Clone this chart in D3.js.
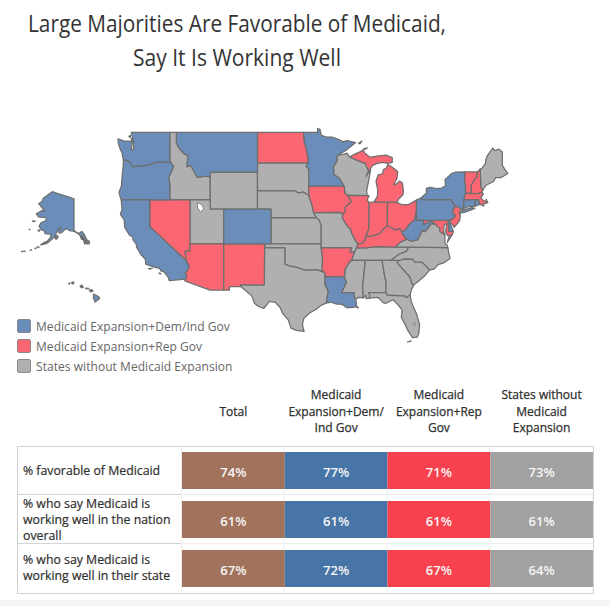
<!DOCTYPE html>
<html><head><meta charset="utf-8">
<script src="https://cdn.jsdelivr.net/npm/d3@7/dist/d3.min.js"></script>
<style>html,body{margin:0;padding:0;background:#fff}svg{display:block}text{font-family:"Open Sans","Noto Sans",sans-serif}</style>
</head><body><svg id="c" width="610" height="606"></svg>
<script>
const titleLines = ["Large Majorities Are Favorable of Medicaid,", "Say It Is Working Well"];
const titleWidths = [418, 208];
const legendLabels = ["Medicaid Expansion+Dem/Ind Gov", "Medicaid Expansion+Rep Gov", "States without Medicaid Expansion"];
const mapColors = ["#6a8eb9", "#fa6672", "#b0b0b0"];
const demStates = ["WA","OR","CA","MT","CO","MN","NY","PA","WV","LA","CT","DE","RI","AK","HI"];
const repStates = ["NV","AZ","NM","ND","IA","AR","IL","IN","OH","MI","KY","NH","VT","MA","NJ","MD"];
const noneStates = ["ID","WY","UT","SD","NE","KS","OK","TX","MO","WI","TN","MS","AL","GA","FL","SC","NC","VA","ME"];
const columns = ["Total", "Medicaid Expansion+Dem/ Ind Gov", "Medicaid Expansion+Rep Gov", "States without Medicaid Expansion"];
const columnHeaderLines = [["Total"], ["Medicaid", "Expansion+Dem/", "Ind Gov"], ["Medicaid", "Expansion+Rep", "Gov"], ["States without", "Medicaid", "Expansion"]];
const rowsLabels = ["favorable", "nation", "state"];
const rowLabelLines = [["% favorable of Medicaid"], ["% who say Medicaid is", "working well in the nation", "overall"], ["% who say Medicaid is", "working well in their state"]];
const favorable = [74, 77, 71, 73];
const wellNation = [61, 61, 61, 61];
const wellState = [67, 72, 67, 64];
const tableColors = ["#a1725c", "#4875a8", "#f8414f", "#a1a1a1"];

const shapes = {
WA:["-124.7,48.38 -123.9,48.17 -123.1,48.15 -122.75,48.15 -122.6,47.9 -122.75,47.3 -122.45,47.25 -122.35,47.9 -122.5,48.3 -122.75,49 -117.03,49 -117.04,46.42 -116.92,46 -118.98,46 -119.3,45.93 -120.5,45.7 -121.2,45.65 -122.2,45.57 -122.7,45.65 -122.8,45.9 -123.2,46.15 -123.9,46.25 -124.05,46.7 -124.1,47 -124.35,47.3 -124.65,47.9","-122.75,48.4 -122.55,48.35 -122.4,47.95 -122.55,48.1","-123.1,48.62 -122.85,48.7 -122.9,48.5"],
OR:["-124.55,42.84 -124.2,43.5 -124.1,44.5 -123.95,45.5 -123.9,46.25 -123.2,46.15 -122.8,45.9 -122.7,45.65 -122.2,45.57 -121.2,45.65 -120.5,45.7 -119.3,45.93 -118.98,46 -116.92,46 -116.47,45.6 -116.85,44.95 -117.22,44.4 -117.03,43.83 -117.03,42 -120,42 -124.21,42 -124.4,42.4"],
CA:["-124.21,42 -120,42 -120,39 -114.63,35 -114.15,34.27 -114.72,33.4 -114.53,33 -114.72,32.72 -117.12,32.53 -117.3,33 -117.9,33.6 -118.4,33.75 -118.5,34.03 -119.2,34.15 -120.6,34.55 -120.65,35.15 -121.3,35.7 -121.95,36.6 -122,36.95 -122.5,37.5 -122.5,37.8 -123,38 -123.7,38.9 -123.8,39.8 -124.35,40.4 -124.1,41 -124.2,41.7","-120.2,34 -119.6,34.05 -119.9,33.95","-118.6,33.48 -118.35,33.4 -118.5,33.35"],
NV:["-120,42 -117.03,42 -114.04,42 -114.04,37 -114.05,36.2 -114.75,36.1 -114.63,35 -120,39"],
ID:["-117.03,49 -116.05,49 -116.05,48 -115.7,47.5 -114.95,46.9 -114.35,46.65 -114.5,45.55 -113.95,45.7 -113.45,45.05 -113,44.45 -112,44.55 -111.5,44.55 -111.05,44.48 -111.05,42 -114.04,42 -117.03,42 -117.03,43.83 -117.22,44.4 -116.85,44.95 -116.47,45.6 -116.92,46 -117.04,46.42"],
MT:["-116.05,49 -104.05,49 -104.05,45.94 -104.05,45 -111.05,45 -111.05,44.48 -111.5,44.55 -112,44.55 -113,44.45 -113.45,45.05 -113.95,45.7 -114.5,45.55 -114.35,46.65 -114.95,46.9 -115.7,47.5 -116.05,48"],
WY:["-111.05,45 -104.05,45 -104.05,43 -104.05,41 -109.05,41 -111.05,41"],
UT:["-114.04,42 -111.05,42 -111.05,41 -109.05,41 -109.05,37 -114.04,37"],
CO:["-109.05,41 -104.05,41 -102.05,41 -102.05,40 -102.05,37 -103,37 -109.05,37"],
AZ:["-114.05,37 -109.05,37 -109.05,31.33 -111.07,31.33 -114.81,32.5 -114.72,32.72 -114.53,33 -114.72,33.4 -114.15,34.27 -114.63,35 -114.75,36.1 -114.05,36.2"],
NM:["-109.05,37 -103,37 -103,36.5 -103.04,32 -106.62,32 -106.53,31.78 -108.2,31.78 -108.2,31.33 -109.05,31.33"],
TX:["-103,36.5 -100,36.5 -100,34.56 -99.2,34.3 -98.1,34.13 -97.2,33.85 -96.5,33.8 -95.3,33.88 -94.48,33.64 -94.04,33.55 -94.04,33.02 -94.04,31.99 -93.55,31.2 -93.75,30.4 -93.84,29.7 -94.7,29.35 -95.3,28.9 -96.4,28.35 -97.2,27.65 -97.4,26.9 -97.15,25.96 -97.65,26.03 -98.3,26.1 -99.1,26.4 -99.5,27.5 -100.3,28.3 -100.7,29.1 -101.4,29.77 -102.3,29.88 -102.8,29.3 -103.15,28.98 -104,29.3 -104.5,29.65 -104.9,30.6 -106,31.4 -106.53,31.78 -106.62,32 -103.04,32"],
OK:["-103,37 -102.05,37 -94.62,37 -94.62,36.5 -94.43,35.4 -94.48,33.64 -95.3,33.88 -96.5,33.8 -97.2,33.85 -98.1,34.13 -99.2,34.3 -100,34.56 -100,36.5 -103,36.5"],
KS:["-102.05,40 -95.3,40 -94.9,39.75 -94.61,39.1 -94.62,37 -102.05,37"],
NE:["-104.05,43 -98.5,43 -98,42.77 -97.2,42.85 -96.45,42.49 -96.1,41.7 -95.9,41.2 -95.75,40.58 -95.3,40 -102.05,40 -102.05,41 -104.05,41"],
SD:["-104.05,45.94 -96.56,45.94 -96.85,45.6 -96.45,45.3 -96.45,43.5 -96.45,42.49 -97.2,42.85 -98,42.77 -98.5,43 -104.05,43"],
ND:["-104.05,49 -97.23,49 -97.1,48 -96.85,47.5 -96.56,46.5 -96.56,45.94 -104.05,45.94"],
MN:["-97.23,49 -95.15,49 -95.15,49.38 -94.8,49.3 -94.6,48.7 -93.8,48.55 -93,48.55 -92,48.3 -91.4,48.07 -90.8,48.2 -89.5,48 -90.8,47.3 -92.1,46.75 -92.29,46.65 -92.29,46.1 -92.8,45.6 -92.75,44.75 -91.95,44.35 -91.22,43.5 -96.45,43.5 -96.45,45.3 -96.85,45.6 -96.56,45.94 -96.56,46.5 -96.85,47.5 -97.1,48"],
IA:["-96.45,43.5 -91.22,43.5 -91.1,42.7 -90.65,42.5 -90.15,41.8 -91.05,41.2 -91.1,40.7 -91.42,40.38 -91.75,40.61 -95.75,40.58 -95.9,41.2 -96.1,41.7 -96.45,42.49"],
MO:["-95.75,40.58 -91.75,40.61 -91.42,40.38 -91.5,40 -90.7,39 -90.2,38.7 -90.2,38.4 -89.5,37.3 -89.15,37 -89.4,36.5 -89.7,36 -90.37,36 -90.1,36.5 -94.62,36.5 -94.62,37 -94.61,39.1 -94.9,39.75 -95.3,40"],
AR:["-94.62,36.5 -90.1,36.5 -90.37,36 -89.7,36 -90.1,35.1 -90.6,34.6 -91.1,33.9 -91.17,33 -94.04,33.02 -94.04,33.55 -94.48,33.64 -94.43,35.4"],
LA:["-94.04,33.02 -91.17,33 -90.9,32.3 -91.6,31 -89.75,31 -89.8,30.6 -89.55,30.18 -89.4,29.8 -89.4,29.3 -89.1,29.05 -89.6,29.2 -90.2,29.1 -90.9,29.1 -91.3,29.4 -91.8,29.55 -92.3,29.55 -93.2,29.78 -93.84,29.7 -93.75,30.4 -93.55,31.2 -94.04,31.99"],
MS:["-90.3,35 -88.2,35 -88.1,34.9 -88.47,31.9 -88.4,30.35 -89,30.4 -89.55,30.18 -89.8,30.6 -89.75,31 -91.6,31 -90.9,32.3 -91.17,33 -91.1,33.9 -90.6,34.6 -90.1,35.1"],
AL:["-88.2,35 -85.6,35 -85.18,32.87 -85,32.3 -85.05,31.55 -85,31 -87.6,31 -87.4,30.65 -87.5,30.3 -88,30.25 -88,30.7 -88.4,30.35 -88.47,31.9 -88.1,34.9"],
TN:["-90.3,35 -88.2,35 -85.6,35 -84.32,35 -83.1,35.75 -82,36.1 -81.68,36.59 -83.67,36.6 -86.5,36.65 -88.07,36.5 -89.4,36.5 -89.7,36 -90.1,35.1"],
KY:["-89.4,36.5 -88.07,36.5 -86.5,36.65 -83.67,36.6 -82.9,37.2 -81.97,37.54 -82.6,38.17 -82.6,38.4 -83,38.73 -83.65,38.63 -84.3,38.9 -84.82,39.1 -85.4,38.7 -85.8,38.27 -86.3,38.1 -87,37.9 -88,37.85 -88.1,37.5 -88.5,37.07 -89.15,37"],
IL:["-87.53,42.49 -90.65,42.5 -90.15,41.8 -91.05,41.2 -91.1,40.7 -91.42,40.38 -91.5,40 -90.7,39 -90.2,38.7 -90.2,38.4 -89.5,37.3 -89.15,37 -88.5,37.07 -88.1,37.5 -88,37.85 -87.6,38.7 -87.53,39.35 -87.53,41.7 -87.8,42"],
IN:["-87.53,41.7 -87.2,41.75 -86.8,41.76 -84.8,41.76 -84.82,39.1 -85.4,38.7 -85.8,38.27 -86.3,38.1 -87,37.9 -88,37.85 -87.6,38.7 -87.53,39.35"],
OH:["-84.8,41.76 -83.45,41.73 -82.7,41.5 -81.7,41.5 -80.52,41.98 -80.52,40.64 -80.85,39.7 -81.7,39.2 -81.75,39 -82.2,38.6 -82.6,38.4 -83,38.73 -83.65,38.63 -84.3,38.9 -84.82,39.1"],
WV:["-80.52,40.64 -80.52,39.72 -79.48,39.72 -79.48,39.2 -78.9,39.45 -78.4,39.62 -77.72,39.32 -78.35,39.35 -78.87,38.77 -79.3,38.42 -79.65,38.58 -80.3,37.5 -81.25,37.3 -81.97,37.54 -82.6,38.17 -82.6,38.4 -82.2,38.6 -81.75,39 -81.7,39.2 -80.85,39.7"],
VA:["-83.67,36.6 -81.68,36.59 -75.87,36.55 -76,36.9 -76.3,37 -76.3,37.6 -76.3,38.05 -77.04,38.4 -77.04,38.8 -77.5,39.1 -77.72,39.32 -78.35,39.35 -78.87,38.77 -79.3,38.42 -79.65,38.58 -80.3,37.5 -81.25,37.3 -81.97,37.54 -82.9,37.2","-75.95,37.15 -75.24,38.03 -75.65,37.95"],
NC:["-81.68,36.59 -82,36.1 -83.1,35.75 -84.32,35 -83.1,35 -82.3,35.2 -81.05,35.15 -80.8,34.82 -79.67,34.8 -78.55,33.86 -77.9,33.95 -77.3,34.5 -76.5,34.7 -75.55,35.25 -75.75,36 -75.87,36.55"],
SC:["-83.1,35 -82.3,35.2 -81.05,35.15 -80.8,34.82 -79.67,34.8 -78.55,33.86 -79.2,33.2 -80,32.6 -80.85,32.05 -81.15,32.1 -81.5,33 -82.6,34 -83.35,34.7"],
GA:["-85.6,35 -84.32,35 -83.1,35 -83.35,34.7 -82.6,34 -81.5,33 -81.15,32.1 -80.85,32.05 -81.3,31.3 -81.45,30.72 -82.05,30.37 -82.2,30.57 -84.87,30.7 -85,31 -85.05,31.55 -85,32.3 -85.18,32.87"],
FL:["-87.6,31 -85,31 -84.87,30.7 -82.2,30.57 -82.05,30.37 -81.45,30.72 -81.3,29.9 -80.9,29.05 -80.55,28.4 -80.05,26.9 -80.15,25.75 -80.4,25.2 -81.1,25.13 -81.8,26.1 -82.2,26.9 -82.75,27.8 -82.65,28.8 -83.4,29.6 -84,30.1 -85,29.65 -85.4,29.7 -86.2,30.4 -87.5,30.3 -87.4,30.65","-81.85,24.55 -81.3,24.72 -81.5,24.6"],
ME:["-71.08,45.3 -70.8,45.4 -70.3,45.9 -70.25,46.3 -70,46.7 -69.23,47.46 -68.9,47.2 -68.3,47.35 -67.8,47.07 -67.8,45.7 -67.45,45.3 -67,44.85 -68,44.4 -68.8,44.4 -69.1,44 -70.2,43.6 -70.7,43.07 -70.98,43.4"],
NH:["-71.5,45.01 -71.08,45.3 -70.98,43.4 -70.7,43.07 -70.82,42.87 -71.3,42.7 -72.46,42.73 -72.4,43.6 -72.05,44.1 -71.6,44.5"],
VT:["-73.35,45.01 -71.5,45.01 -71.6,44.5 -72.05,44.1 -72.4,43.6 -72.46,42.73 -73.26,42.75 -73.25,43.55 -73.4,44"],
MA:["-73.5,42.05 -73.26,42.75 -72.46,42.73 -71.3,42.7 -70.82,42.87 -70.6,42.65 -71,42.3 -70.65,41.95 -70.05,41.8 -70.2,42.07 -69.95,41.7 -70.65,41.55 -71.12,41.5 -71.38,42.02 -71.8,42.02","-70.8,41.42 -70.5,41.38 -70.65,41.33"],
RI:["-71.8,42.02 -71.38,42.02 -71.12,41.5 -71.85,41.32"],
CT:["-73.5,42.05 -71.8,42.02 -71.85,41.32 -72.9,41.25 -73.65,41 -73.5,41.3"],
NY:["-79.76,42.27 -79.76,42 -75.35,42 -75,41.5 -74.7,41.36 -73.9,41 -73.65,41 -73.5,41.3 -73.5,42.05 -73.26,42.75 -73.25,43.55 -73.4,44 -73.35,45.01 -74.7,45 -75.3,44.85 -76.3,44.2 -76.2,43.55 -76.8,43.3 -77.5,43.25 -78.5,43.37 -79.05,43.27 -79.05,42.9 -78.9,42.85","-74.03,40.6 -73.75,40.85 -72.3,41.15 -71.87,41.07 -73.5,40.58"],
PA:["-80.52,41.98 -79.76,42.27 -79.76,42 -75.35,42 -75,41.5 -74.7,41.36 -75.1,40.95 -75.2,40.65 -74.75,40.2 -75.4,39.8 -75.8,39.72 -79.48,39.72 -80.52,39.72 -80.52,40.64"],
NJ:["-74.7,41.36 -73.9,41 -74.25,40.5 -74,40.45 -74.1,39.75 -74.4,39.4 -74.95,38.93 -75.15,39.2 -75.55,39.5 -75.4,39.8 -74.75,40.2 -75.2,40.65 -75.1,40.95"],
DE:["-75.8,39.72 -75.4,39.8 -75.55,39.5 -75.4,39.1 -75.05,38.45 -75.7,38.46"],
MD:["-79.48,39.72 -75.8,39.72 -75.7,38.46 -75.05,38.45 -75.24,38.03 -75.65,37.95 -75.9,37.95 -76.2,38.4 -76,39.4 -76.4,39.15 -76.5,38.5 -76.3,38.05 -77.04,38.4 -77.04,38.8 -77.5,39.1 -77.72,39.32 -78.4,39.62 -78.9,39.45 -79.48,39.2"],
WI:["-92.29,46.65 -92.1,46.75 -91.2,46.85 -90.8,46.95 -90.4,46.55 -89.1,46.15 -88.1,45.9 -87.6,45.1 -88,44.55 -87.3,45.25 -87.5,44.4 -87.7,43.7 -87.9,43 -87.8,42.49 -90.65,42.5 -91.1,42.7 -91.22,43.5 -91.95,44.35 -92.75,44.75 -92.8,45.6 -92.29,46.1"],
MI:["-86.8,41.76 -84.8,41.76 -83.45,41.73 -83.15,42.1 -82.5,42.6 -82.45,43 -82.6,43.85 -83,44.05 -83.45,43.75 -83.9,43.65 -83.4,44.3 -83.3,45.05 -84.1,45.5 -84.75,45.78 -85,45.4 -85.4,45.25 -85.55,44.8 -86.2,44.7 -86.5,44 -86.25,43.1 -86.3,42.4","-90.4,46.55 -89.1,46.15 -88.1,45.9 -87.6,45.1 -87,45.7 -86.3,45.9 -85.5,46 -84.75,45.9 -84.1,46 -84.1,46.5 -85,46.75 -86.1,46.67 -87.4,46.52 -88.2,46.95 -88.4,47.35 -87.8,47.47 -88.8,47.1 -89.8,46.8","-89.1,47.9 -88.6,48.15 -88.85,47.9"],
AK:["-141,69.65 -141,60.3 -139.9,59.7 -137.5,59 -136.5,59.45 -135.4,59.75 -133.9,58.9 -131.85,56.6 -130,56 -130,55 -131.5,55 -133.5,55.5 -135,57.5 -136.5,58.2 -138,59 -139.8,59.55 -142,60 -144,60 -146.5,60.8 -148.5,60 -150,59.3 -151.8,59.2 -151.5,60.7 -150,61.2 -151.8,60.8 -153,59.7 -154,59 -154.2,58.2 -156.5,57 -158.5,56 -161,55.1 -163,54.8 -164.8,54.6 -162.5,55.5 -160,56.1 -158,57.5 -157.2,58.8 -158.5,58.8 -161.8,59 -162,60 -164.5,60.3 -166,61.6 -164.8,62.7 -163,63.1 -161,63.5 -161,64.5 -163,64.5 -166.5,64.6 -168,65.6 -164,66.5 -161.8,66.2 -163.5,67.1 -166.3,68.4 -164,68.9 -163,69.8 -161,70.3 -156.6,71.35 -152,70.85 -148,70.4 -144,70","-154.7,57.5 -153,58.4 -152.3,57.6 -153.8,56.8","-136.5,58 -135,58.2 -134,57 -135.5,56.8","-134,56.8 -132.5,56.5 -131.5,55.2 -133.5,55","-133,56.3 -132,56.1 -132.6,55.7","-167,53.9 -166,53.6 -166.6,53.4","-169,53 -168,53.4 -168.3,53","-172.5,52.3 -171.5,52.5 -172,52.2","-176.9,51.9 -176,51.9 -176.5,51.7","-178.5,51.8 -177.5,51.8 -178,51.6","-170.8,63.4 -168.8,63.3 -170,63.1","-166.9,60.2 -165.6,60.3 -166,59.8","-173,60.6 -172.6,60.4 -173.1,60.4"],
HI:["-155.9,20.25 -155.1,19.85 -154.85,19.5 -155.65,18.95 -155.95,19.6","-156.7,20.9 -156.25,20.95 -156,20.75 -156.4,20.6","-157.25,21.2 -156.75,21.15 -157.25,21.08","-158.25,21.55 -157.95,21.7 -157.7,21.3 -158.1,21.3","-159.75,22.1 -159.4,22.2 -159.35,21.95 -159.6,21.9","-160.25,22 -160.05,22 -160.15,21.85"]
};
const lakes = ["-113,41.7 -112.3,41.5 -112,41 -112.5,40.7 -112.9,41.1", "-80.95,27.05 -80.65,27 -80.7,26.75 -80.95,26.8"];

const parse = s => s.trim().split(/\s+/).map(p => p.split(",").map(Number));
function feature(rings, id){
  const polys = rings.map(r => { const c = parse(r); c.push(c[0]);
    if (d3.geoArea({type:"Polygon",coordinates:[c]}) > 2*Math.PI) c.reverse();
    return [c]; });
  return {type:"MultiPolygon",coordinates:polys,id};
}
const mainProj = d3.geoMercator().center([-102.05,41]).scale(387).translate([271,209]).precision(0);
const akProj = d3.geoMercator().center([-141,60.3]).scale(80).translate([74,230]).precision(0);
const hiProj = d3.geoMercator().center([-155.5,19.6]).scale(330).translate([96,298]).precision(0);
const pathOf = id => d3.geoPath(id==="AK"?akProj:id==="HI"?hiProj:mainProj);

const svg = d3.select("#c");
svg.append("rect").attr("width",610).attr("height",606).attr("fill","#fff");
svg.append("rect").attr("x",0).attr("y",600).attr("width",610).attr("height",6).attr("fill","#f5f5f5");

// title
svg.append("g").selectAll("text").data(titleLines).join("text")
  .attr("x",237).attr("y",(d,i)=>32+i*33.5).attr("text-anchor","middle")
  .attr("font-size",23.5).attr("fill","#333")
  .attr("textLength",(d,i)=>titleWidths[i]).attr("lengthAdjust","spacingAndGlyphs").text(d=>d);

// map
const groupOf = new Map();
[demStates,repStates,noneStates].forEach((g,i)=>g.forEach(s=>groupOf.set(s,i)));
const ids = [...noneStates,...repStates,...demStates];
svg.append("g").selectAll("path").data(ids).join("path")
  .attr("d",id=>pathOf(id)(feature(shapes[id],id)))
  .attr("fill",id=>mapColors[groupOf.get(id)])
  .attr("stroke","#6e6e6e").attr("stroke-width",1.25).attr("stroke-linejoin","round");
svg.append("g").selectAll("path").data(lakes).join("path")
  .attr("d",l=>d3.geoPath(mainProj)(feature([l],"lake")))
  .attr("fill","#fff").attr("stroke","#6e6e6e").attr("stroke-width",0.8);

// legend
const legendY = d3.scalePoint().domain(legendLabels).range([326,366]);
const lg = svg.append("g").selectAll("g").data(legendLabels).join("g");
lg.append("rect").attr("x",17.5).attr("y",d=>legendY(d)-6.5).attr("width",13).attr("height",13).attr("rx",1.5)
  .attr("fill",(d,i)=>mapColors[i]).attr("stroke","#777").attr("stroke-width",0.8);
lg.append("text").attr("x",36).attr("y",d=>legendY(d)+4.5).attr("font-size",12).attr("letter-spacing",0.05).attr("fill","#666").text(d=>d);

// table
const rowsData = [favorable, wellNation, wellState];
const x = d3.scaleBand().domain(columns).range([182,593]);
const y = d3.scaleBand().domain(rowsLabels).range([446,593]).paddingInner(12/49).paddingOuter(6/49);
const rowY = d3.scaleBand().domain(rowsLabels).range([446,593]);
const frame = svg.append("g");
columns.forEach(c=>frame.append("line").attr("x1",x(c)-.5).attr("x2",x(c)-.5).attr("y1",446).attr("y2",593).attr("stroke","#eeeeee"));
rowsLabels.slice(1).forEach(r=>{
  frame.append("line").attr("x1",17).attr("x2",181).attr("y1",rowY(r)-.5).attr("y2",rowY(r)-.5).attr("stroke","#d4d4d4");
  frame.append("line").attr("x1",181).attr("x2",593).attr("y1",rowY(r)-.5).attr("y2",rowY(r)-.5).attr("stroke","#eeeeee");
});
frame.append("rect").attr("x",17.5).attr("y",446.5).attr("width",576).attr("height",147).attr("fill","none").attr("stroke","#d0d0d0");

rowsLabels.forEach((r,ri)=>{
  const g = svg.append("g");
  g.selectAll("rect").data(rowsData[ri]).join("rect")
    .attr("x",(d,i)=>x(columns[i])).attr("width",x.bandwidth())
    .attr("y",y(r)).attr("height",y.bandwidth()).attr("fill",(d,i)=>tableColors[i]);
  g.selectAll("text.v").data(rowsData[ri]).join("text").attr("class","v")
    .attr("x",(d,i)=>x(columns[i])+x.bandwidth()/2).attr("y",y(r)+y.bandwidth()/2+6)
    .attr("text-anchor","middle").attr("font-size",13).attr("font-weight",600).attr("fill","#f6f6f6").text(d=>d+"%");
  const lines = rowLabelLines[ri];
  const cy = ri===2 ? 567.5 : rowY(r)+rowY.bandwidth()/2+(ri===0?0:-.5);
  g.selectAll("text.l").data(lines).join("text").attr("class","l")
    .attr("x",23).attr("y",(d,i)=>cy+(i-(lines.length-1)/2)*16+4.5)
    .attr("font-size",12.3).attr("fill","#2f2f2f").attr("stroke","#2f2f2f").attr("stroke-width",0.2).text(d=>d);
});
columns.forEach((c,ci)=>{
  const lines = columnHeaderLines[ci];
  svg.append("g").selectAll("text").data(lines).join("text")
    .attr("x",x(c)+x.bandwidth()/2).attr("y",(d,i)=>411+(i-(lines.length-1)/2)*16.5+4.5)
    .attr("text-anchor","middle").attr("font-size",12).attr("fill","#2f2f2f").attr("stroke","#2f2f2f").attr("stroke-width",0.25).text(d=>d);
});
</script></body></html>
